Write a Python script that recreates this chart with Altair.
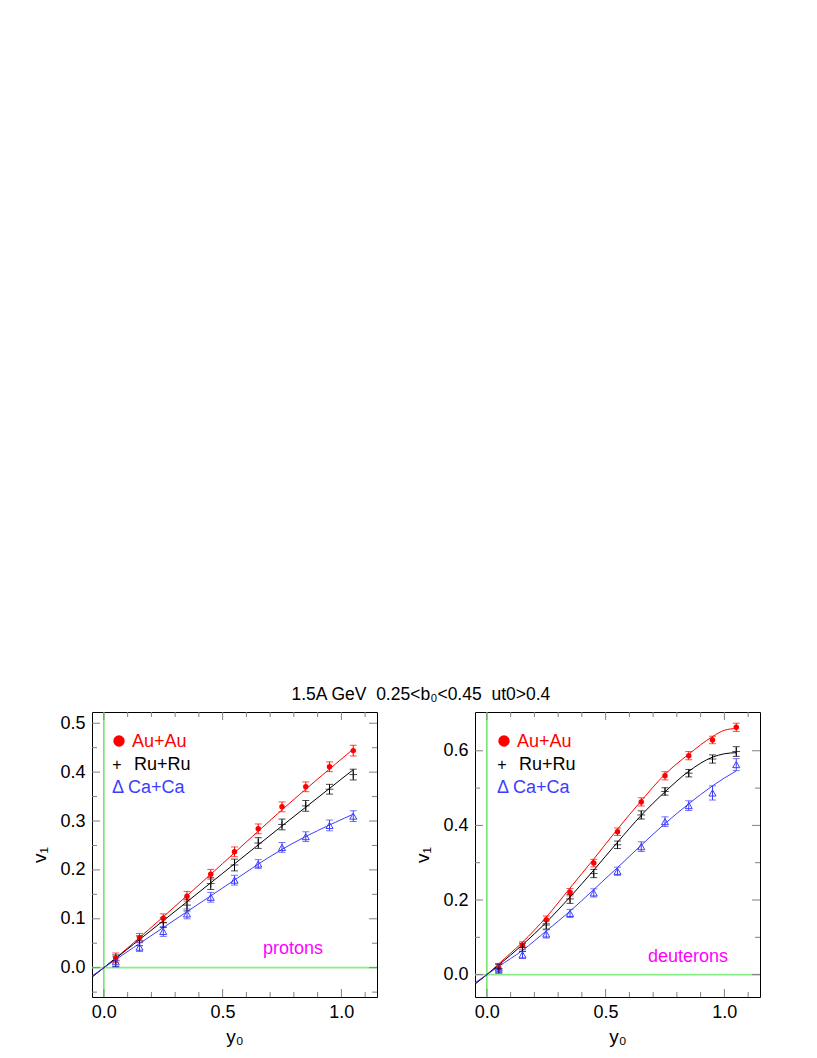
import altair as alt
import pandas as pd

FONT = "Liberation Sans"
RED = "#ff0000"
BLACK = "#000000"
BLUE = "#3c3cff"
GREEN = "#44dd44"
GREEN_H = "#88ee88"
MAG = "#ff00ff"
TICK = "#808080"

# ---------------- data ----------------
y0 = [0.05, 0.15, 0.25, 0.35, 0.45, 0.55, 0.65, 0.75, 0.85, 0.95, 1.05]

# protons
p_au = [0.020, 0.061, 0.101, 0.146, 0.191, 0.237, 0.284, 0.329, 0.370, 0.411, 0.444]
p_au_err = [0.010, 0.009, 0.009, 0.010, 0.010, 0.010, 0.010, 0.010, 0.010, 0.010, 0.011]
p_ru = [0.014, 0.055, 0.092, 0.128, 0.172, 0.210, 0.255, 0.293, 0.331, 0.365, 0.395]
p_ru_err = [0.012, 0.010, 0.010, 0.012, 0.012, 0.012, 0.011, 0.011, 0.011, 0.010, 0.011]
p_ca = [0.012, 0.042, 0.074, 0.110, 0.144, 0.179, 0.212, 0.246, 0.268, 0.291, 0.310]
p_ca_err = [0.010, 0.009, 0.010, 0.010, 0.010, 0.010, 0.009, 0.010, 0.010, 0.011, 0.011]

# proton fit curves
p_cx = [-0.05, 0.0, 0.25, 0.5, 0.75, 1.05]
p_au_fit = [-0.019, 0.0, 0.104, 0.213, 0.323, 0.447]
p_ru_fit = [-0.019, 0.0, 0.096, 0.193, 0.290, 0.405]
p_ca_fit = [-0.017, 0.0, 0.082, 0.163, 0.242, 0.314]

# deuterons
d_au = [0.018, 0.078, 0.147, 0.221, 0.299, 0.383, 0.463, 0.533, 0.587, 0.629, 0.663]
d_au_err = [0.010, 0.010, 0.010, 0.010, 0.010, 0.010, 0.011, 0.011, 0.011, 0.010, 0.011]
d_ru = [0.016, 0.073, 0.133, 0.203, 0.271, 0.348, 0.428, 0.491, 0.540, 0.578, 0.598]
d_ru_err = [0.012, 0.011, 0.011, 0.012, 0.011, 0.010, 0.011, 0.010, 0.010, 0.011, 0.013]
d_ca = [0.018, 0.053, 0.109, 0.164, 0.219, 0.277, 0.343, 0.410, 0.453, 0.487, 0.563]
d_ca_err = [0.012, 0.010, 0.011, 0.011, 0.011, 0.011, 0.013, 0.013, 0.013, 0.019, 0.016]

# deuteron fit curves
d_cx = [-0.05, 0.0, 0.05, 0.15, 0.25, 0.35, 0.45, 0.55, 0.65, 0.75, 0.85, 0.95, 1.0, 1.05]
d_au_fit = [-0.025, 0.0, 0.029, 0.087, 0.154, 0.232, 0.310, 0.390, 0.466, 0.537, 0.591, 0.638, 0.655, 0.660]
d_ru_fit = [-0.025, 0.0, 0.026, 0.080, 0.140, 0.208, 0.280, 0.355, 0.427, 0.490, 0.545, 0.583, 0.592, 0.595]
d_ca_fit = [-0.022, 0.0, 0.022, 0.065, 0.117, 0.170, 0.228, 0.287, 0.347, 0.405, 0.458, 0.506, 0.527, 0.546]

series = ["Au+Au", "Ru+Ru", "Ca+Ca"]
colors = [RED, BLACK, BLUE]

x_domain = [-0.05, 1.15]
x_labels = [0.0, 0.5, 1.0]
x_major = [0.0, 0.5, 1.0]
x_minor = [0.1, 0.2, 0.3, 0.4, 0.6, 0.7, 0.8, 0.9, 1.1]

p_ydom = [-0.06, 0.523]
p_ylabels = [0.0, 0.1, 0.2, 0.3, 0.4, 0.5]
p_yminor = [-0.05, 0.05, 0.15, 0.25, 0.35, 0.45]

d_ydom = [-0.06, 0.704]
d_ylabels = [0.0, 0.2, 0.4, 0.6]
d_yminor = [0.1, 0.3, 0.5]

W, H = 285, 285


def make_points(vals, errs):
    rows = []
    for s, v, e in zip(series, vals, errs):
        for x, yv, ee in zip(y0, v, e):
            rows.append({"x": x, "v": yv, "lo": yv - ee, "hi": yv + ee, "s": s})
    return pd.DataFrame(rows)


def make_curves(cx, fits):
    rows = []
    for s, f in zip(series, fits):
        for x, yv in zip(cx, f):
            rows.append({"x": x, "v": yv, "s": s})
    return pd.DataFrame(rows)


def panel(pts, curves, ydom, ylabels, yminor, tag, tag_x, tag_y, lx):
    xs = alt.Scale(domain=x_domain, nice=False, zero=False)
    ys = alt.Scale(domain=ydom, nice=False, zero=False)
    xax = alt.Axis(values=x_labels, format=".1f", ticks=False, domain=False, grid=False,
                   labelPadding=6, title="y₀", titlePadding=6)
    yax = alt.Axis(values=ylabels, format=".1f", ticks=False, domain=False, grid=False,
                   labelPadding=7, title="v₁", titlePadding=10)
    X = lambda f: alt.X(f, type="quantitative", scale=xs, axis=xax)
    Y = lambda f: alt.Y(f, type="quantitative", scale=ys, axis=yax)
    col = alt.Color("s:N", scale=alt.Scale(domain=series, range=colors), legend=None)

    base = alt.Chart(pts)
    layers = []
    # green reference lines
    layers.append(alt.Chart(pd.DataFrame({"x": [0.0]})).mark_rule(color=GREEN, strokeWidth=1.2)
                  .encode(x=X("x"), y=alt.value(0), y2=alt.value(H)))
    layers.append(alt.Chart(pd.DataFrame({"y": [0.0]})).mark_rule(color=GREEN_H, strokeWidth=1.6)
                  .encode(y=Y("y"), x=alt.value(0), x2=alt.value(W)))
    # fit curves
    layers.append(alt.Chart(curves).mark_line(strokeWidth=1, interpolate="monotone", clip=True)
                  .encode(x=X("x"), y=Y("v"), color=col))
    # error bars + caps
    layers.append(base.mark_rule(strokeWidth=1).encode(x=X("x"), y=Y("lo"), y2="hi", color=col))
    layers.append(base.mark_tick(orient="horizontal", size=7, thickness=1).encode(x=X("x"), y=Y("lo"), color=col))
    layers.append(base.mark_tick(orient="horizontal", size=7, thickness=1).encode(x=X("x"), y=Y("hi"), color=col))
    # markers
    layers.append(base.transform_filter(alt.datum.s == "Au+Au").mark_circle(size=30, color=RED, opacity=1)
                  .encode(x=X("x"), y=Y("v")))
    layers.append(base.transform_filter(alt.datum.s == "Ru+Ru")
                  .mark_point(shape="M-1,0L1,0M0,-1L0,1", size=60, strokeWidth=1, color=BLACK, filled=False)
                  .encode(x=X("x"), y=Y("v")))
    layers.append(base.transform_filter(alt.datum.s == "Ca+Ca")
                  .mark_point(shape="triangle-up", size=50, strokeWidth=1, color=BLUE, filled=False, opacity=1)
                  .encode(x=X("x"), y=Y("v")))
    # inward ticks on all four sides
    for vals, L in [(x_major, 8), (x_minor, 5)]:
        d = pd.DataFrame({"t": vals})
        layers.append(alt.Chart(d).mark_rule(color=TICK, strokeWidth=1)
                      .encode(x=X("t"), y=alt.value(H), y2=alt.value(H - L)))
        layers.append(alt.Chart(d).mark_rule(color=TICK, strokeWidth=1)
                      .encode(x=X("t"), y=alt.value(0), y2=alt.value(L)))
    for vals, L in [(ylabels, 8), (yminor, 5)]:
        d = pd.DataFrame({"t": vals})
        layers.append(alt.Chart(d).mark_rule(color=TICK, strokeWidth=1)
                      .encode(y=Y("t"), x=alt.value(0), x2=alt.value(L)))
        layers.append(alt.Chart(d).mark_rule(color=TICK, strokeWidth=1)
                      .encode(y=Y("t"), x=alt.value(W), x2=alt.value(W - L)))
    # legend
    one = alt.Chart(pd.DataFrame({"a": [0]}))
    layers.append(one.mark_circle(size=130, color=RED, opacity=1)
                  .encode(x=alt.value(lx + 7), y=alt.value(29)))
    layers.append(one.mark_text(text="Au+Au", color=RED, align="left", baseline="middle", font=FONT, fontSize=18)
                  .encode(x=alt.value(lx + 20), y=alt.value(30)))
    layers.append(one.mark_text(text="+", color=BLACK, align="center", baseline="middle", font=FONT, fontSize=16)
                  .encode(x=alt.value(lx + 5), y=alt.value(53)))
    layers.append(one.mark_text(text="Ru+Ru", color=BLACK, align="left", baseline="middle", font=FONT, fontSize=18)
                  .encode(x=alt.value(lx + 22), y=alt.value(53)))
    layers.append(one.mark_text(text="Δ Ca+Ca", color=BLUE, align="left", baseline="middle", font=FONT, fontSize=18)
                  .encode(x=alt.value(lx), y=alt.value(76)))
    # panel label
    layers.append(one.mark_text(text=tag, color=MAG, align="center", baseline="middle", font=FONT, fontSize=18)
                  .encode(x=alt.value(tag_x), y=alt.value(tag_y)))
    return alt.layer(*layers).properties(width=W, height=H)


left = panel(make_points([p_au, p_ru, p_ca], [p_au_err, p_ru_err, p_ca_err]),
             make_curves(p_cx, [p_au_fit, p_ru_fit, p_ca_fit]),
             p_ydom, p_ylabels, p_yminor, "protons", 201, 237, 20)
right = panel(make_points([d_au, d_ru, d_ca], [d_au_err, d_ru_err, d_ca_err]),
              make_curves(d_cx, [d_au_fit, d_ru_fit, d_ca_fit]),
              d_ydom, d_ylabels, d_yminor, "deuterons", 213, 245, 22)

chart = (
    alt.hconcat(left, right, spacing=34)
    .properties(
        title=alt.Title("1.5A GeV\u00a0\u00a00.25<b₀<0.45\u00a0\u00a0ut0>0.4", font=FONT, fontSize=17.5,
                        fontWeight="normal", anchor="middle", offset=7, dx=25, color="black"),
        padding={"left": 22, "top": 678, "right": 5, "bottom": 5},
    )
    .configure_view(stroke="black", strokeWidth=1)
    .configure_axis(labelFont=FONT, labelFontSize=18, titleFont=FONT, titleFontSize=19,
                    titleFontWeight="normal", labelColor="black", titleColor="black")
)

chart.save("out.html", embed_options={"renderer": "svg", "actions": False})
